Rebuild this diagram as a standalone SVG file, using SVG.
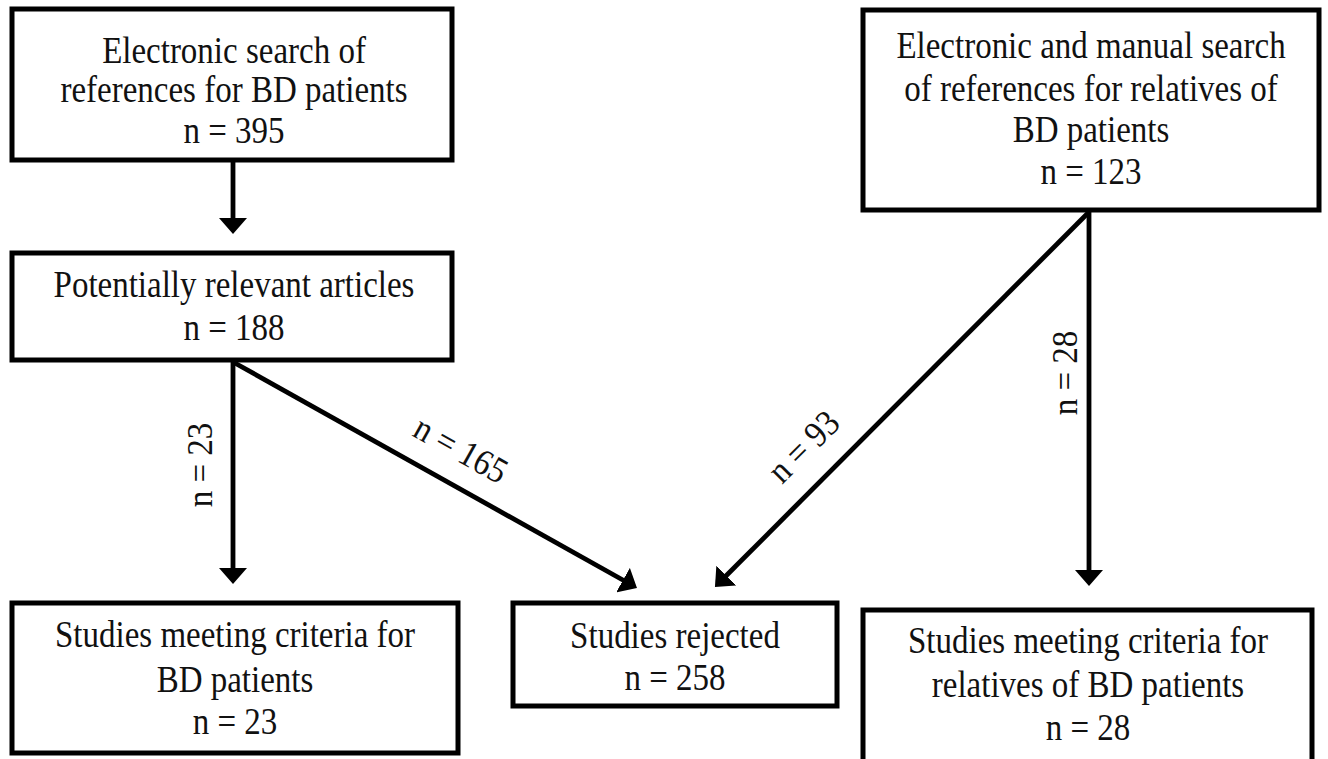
<svg xmlns="http://www.w3.org/2000/svg" width="1328" height="759" viewBox="0 0 1328 759">
<style>
.box{fill:#fff;stroke:#000;stroke-width:5}
.t{font-family:"Liberation Serif","Times New Roman",serif;font-size:33px;fill:#111;text-anchor:middle}
.c{fill:none;stroke:#000;stroke-width:4.8}
</style>
<defs>
<marker id="ah" viewBox="0 0 16 28" refX="8" refY="14" markerWidth="16" markerHeight="28" markerUnits="userSpaceOnUse" orient="auto">
<path d="M0,0 L16,14 L0,28 z" fill="#000"/>
</marker>
</defs>
<rect width="1328" height="759" fill="#fff"/>
<g id="connectors">
<line class="c" x1="233" y1="160" x2="233" y2="226" marker-end="url(#ah)"/>
<line class="c" x1="233" y1="360" x2="233" y2="576" marker-end="url(#ah)"/>
<line class="c" x1="233" y1="362" x2="630" y2="584" marker-end="url(#ah)"/>
<line class="c" x1="1089" y1="211" x2="1089" y2="578" marker-end="url(#ah)"/>
<line class="c" x1="1089" y1="212" x2="720.6" y2="581.3" marker-end="url(#ah)"/>
<text class="t" transform="translate(212,465) rotate(-90) scale(1,1.1)">n = 23</text>
<text class="t" transform="translate(455,460) rotate(29.2) scale(1,1.1)">n = 165</text>
<text class="t" transform="translate(812,455) rotate(-45) scale(1,1.1)">n = 93</text>
<text class="t" transform="translate(1077,373) rotate(-90) scale(1,1.1)">n = 28</text>
</g>
<g id="n1">
<rect class="box" x="12" y="9" width="440" height="151"/>
<text class="t" transform="translate(234,63) scale(1,1.15)">Electronic search of</text>
<text class="t" transform="translate(234,102) scale(1,1.15)">references for BD patients</text>
<text class="t" transform="translate(234,143) scale(1,1.15)">n = 395</text>
</g>
<g id="n2">
<rect class="box" x="863" y="10" width="456" height="200"/>
<text class="t" transform="translate(1091,58) scale(1,1.15)">Electronic and manual search</text>
<text class="t" transform="translate(1091,101) scale(1,1.15)">of references for relatives of</text>
<text class="t" transform="translate(1091,142) scale(1,1.15)">BD patients</text>
<text class="t" transform="translate(1091,184) scale(1,1.15)">n = 123</text>
</g>
<g id="n3">
<rect class="box" x="12" y="253" width="440" height="107"/>
<text class="t" transform="translate(234,297) scale(1,1.15)">Potentially relevant articles</text>
<text class="t" transform="translate(234,340) scale(1,1.15)">n = 188</text>
</g>
<g id="n4">
<rect class="box" x="12" y="603" width="446" height="150"/>
<text class="t" transform="translate(235,647) scale(1,1.15)">Studies meeting criteria for</text>
<text class="t" transform="translate(235,692) scale(1,1.15)">BD patients</text>
<text class="t" transform="translate(235,734) scale(1,1.15)">n = 23</text>
</g>
<g id="n5">
<rect class="box" x="513" y="603" width="324" height="103"/>
<text class="t" transform="translate(675,648) scale(1,1.15)">Studies rejected</text>
<text class="t" transform="translate(675,690) scale(1,1.15)">n = 258</text>
</g>
<g id="n6">
<rect class="box" x="863" y="610" width="449" height="160"/>
<text class="t" transform="translate(1088,653) scale(1,1.15)">Studies meeting criteria for</text>
<text class="t" transform="translate(1088,697) scale(1,1.15)">relatives of BD patients</text>
<text class="t" transform="translate(1088,740) scale(1,1.15)">n = 28</text>
</g>
</svg>
